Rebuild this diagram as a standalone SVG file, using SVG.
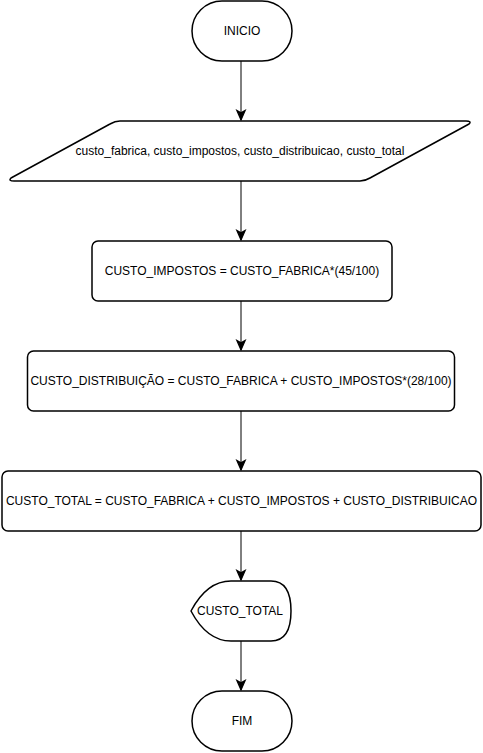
<svg xmlns="http://www.w3.org/2000/svg" width="483" height="753" viewBox="0 0 483 753">
<style>
.s{fill:#fff;stroke:#000;stroke-width:1.5;stroke-linejoin:round}
.t{font-family:"Liberation Sans",Arial,sans-serif;font-size:12px;fill:#000;text-anchor:middle;dominant-baseline:central}
.c{stroke:#000;stroke-width:1;fill:none}
</style>
<defs>
<marker id="a" markerUnits="userSpaceOnUse" markerWidth="12" markerHeight="12" viewBox="-9 -5 10 10" refX="0" refY="0" orient="auto">
<path d="M0,0 L-8,-3.5 L-6,0 L-8,3.5 Z" fill="#000" stroke="#000" stroke-width="1"/>
</marker>
</defs>
<rect width="483" height="753" fill="#fff"/>
<g id="connectors">
<line class="c" x1="241" y1="61" x2="241" y2="120" marker-end="url(#a)"/>
<line class="c" x1="241" y1="181" x2="241" y2="240" marker-end="url(#a)"/>
<line class="c" x1="241" y1="301" x2="241" y2="350" marker-end="url(#a)"/>
<line class="c" x1="241" y1="411" x2="241" y2="470" marker-end="url(#a)"/>
<line class="c" x1="241" y1="531" x2="241" y2="580" marker-end="url(#a)"/>
<line class="c" x1="241" y1="641" x2="241" y2="690" marker-end="url(#a)"/>
</g>
<g id="inicio">
<rect class="s" x="192" y="1" width="100" height="60" rx="30" ry="30"/>
<text class="t" x="242" y="31">INICIO</text>
</g>
<g id="entrada">
<path class="s" d="M120,121 L466,121 Q472,121 469,124 L370,178 Q365,181 360,181 L14,181 Q8,181 11,178 L110,124 Q115,121 120,121 Z"/>
<text class="t" x="240" y="151">custo_fabrica, custo_impostos, custo_distribuicao, custo_total</text>
</g>
<g id="impostos">
<rect class="s" x="92" y="241" width="300" height="60" rx="6" ry="6"/>
<text class="t" x="242" y="271">CUSTO_IMPOSTOS = CUSTO_FABRICA*(45/100)</text>
</g>
<g id="distribuicao">
<rect class="s" x="27.5" y="351" width="427" height="60" rx="6" ry="6"/>
<text class="t" x="241" y="381">CUSTO_DISTRIBUIÇÃO = CUSTO_FABRICA + CUSTO_IMPOSTOS*(28/100)</text>
</g>
<g id="total">
<rect class="s" x="2" y="471" width="479" height="60" rx="6" ry="6"/>
<text class="t" x="241.5" y="501">CUSTO_TOTAL = CUSTO_FABRICA + CUSTO_IMPOSTOS + CUSTO_DISTRIBUICAO</text>
</g>
<g id="saida">
<path class="s" d="M191,611 C200,594 212,581 231,581 L271,581 Q291,581 291,611 Q291,641 271,641 L231,641 C212,641 200,628 191,611 Z"/>
<text class="t" x="240" y="611">CUSTO_TOTAL</text>
</g>
<g id="fim">
<rect class="s" x="192" y="691" width="100" height="60" rx="30" ry="30"/>
<text class="t" x="242" y="721">FIM</text>
</g>
</svg>
